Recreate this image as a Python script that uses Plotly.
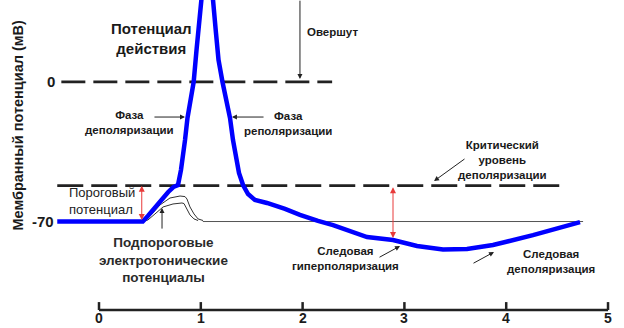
import plotly.graph_objects as go

# --- action potential trace (time in ms, membrane potential in mV) ---
ap_time = [-0.41, 0.43, 0.48, 0.53, 0.58, 0.63, 0.68, 0.73, 0.776, 0.805, 0.820,
           0.845, 0.869, 0.899, 0.930, 0.958, 0.972, 0.997, 1.017, 1.041, 1.056,
           1.071, 1.095, 1.120, 1.149, 1.174, 1.213, 1.248, 1.287, 1.316, 1.346,
           1.375, 1.415, 1.464, 1.532, 1.650, 1.827, 1.974, 2.151, 2.299, 2.633,
           2.888, 3.124, 3.379, 3.615, 3.870, 4.263, 4.725]
ap_mv = [-70.0, -70.0, -67.2, -64.2, -60.7, -57.7, -55.2, -52.7, -51.7, -44.2, -39.1,
         -29.1, -18.1, -9.1, 0.0, 16.1, 24.6, 41.1, 47.1, 51.2, 52.7,
         51.2, 47.1, 41.1, 24.6, 11.0, 0.0, -9.1, -18.1, -29.1, -39.1,
         -45.6, -51.7, -56.2, -59.2, -60.7, -63.7, -66.7, -69.7, -71.8, -77.8,
         -79.3, -82.3, -84.0, -83.8, -81.8, -76.8, -70.3]

# --- subthreshold electrotonic potentials ---
sub_outer_t = [0.43, 0.462, 0.521, 0.599, 0.697, 0.796, 0.845, 0.864, 0.894, 0.933, 0.973, 1.022]
sub_outer_mv = [-70.0, -69.0, -66.2, -61.7, -58.2, -57.2, -57.5, -58.7, -62.7, -66.2, -68.7, -69.5]
sub_inner_t = [0.43, 0.481, 0.550, 0.629, 0.727, 0.815, 0.835, 0.855, 0.894, 0.933, 0.973]
sub_inner_mv = [-70.0, -69.2, -66.2, -62.7, -61.2, -60.7, -61.0, -62.7, -66.7, -68.7, -69.5]

# --- reference levels (mV) ---
zero_level = 0
threshold_level = -52
rest_level = -70
zero_span = [-0.37, 2.29]
threshold_span = [-0.41, 4.56]
rest_span = [1.02, 4.755]

# --- time axis ---
time_ticks = [0, 1, 2, 3, 4, 5]
tick_labels = ["0", "1", "2", "3", "4", "5"]
axis_level = -114.4
tick_len = 4.0

BOLD = "Liberation Sans"
INK = "#1a1a1a"

fig = go.Figure()

# dashed reference levels
fig.add_trace(go.Scatter(x=zero_span, y=[zero_level] * 2, mode="lines",
                         line=dict(color="#222", width=2.8, dash="24px,8px")))
fig.add_trace(go.Scatter(x=threshold_span, y=[threshold_level] * 2, mode="lines",
                         line=dict(color="#222", width=2.8, dash="26px,8px")))
# thin resting-potential baseline
fig.add_trace(go.Scatter(x=rest_span, y=[rest_level] * 2, mode="lines",
                         line=dict(color="#555", width=1)))

# subthreshold potentials
fig.add_trace(go.Scatter(x=sub_outer_t, y=sub_outer_mv, mode="lines",
                         line=dict(color="#333", width=1)))
fig.add_trace(go.Scatter(x=sub_inner_t, y=sub_inner_mv, mode="lines",
                         line=dict(color="#333", width=1)))

# action potential
fig.add_trace(go.Scatter(x=ap_time, y=ap_mv, mode="lines",
                         line=dict(color="#0000ff", width=4.5)))

# time axis line with upward ticks
fig.add_trace(go.Scatter(x=[time_ticks[0], time_ticks[-1]], y=[axis_level] * 2,
                         mode="lines", line=dict(color="#222", width=2.5)))
tx, ty = [], []
for t in time_ticks:
    tx += [t, t, None]
    ty += [axis_level, axis_level + tick_len, None]
fig.add_trace(go.Scatter(x=tx, y=ty, mode="lines", line=dict(color="#222", width=2.5)))

ann = []


def label(x, y, text, size=11.5, bold=True, xanchor="center", color=INK, **kw):
    t = f"<b>{text}</b>" if bold else text
    ann.append(dict(x=x, y=y, xref="x", yref="y", text=t, showarrow=False,
                    xanchor=xanchor, yanchor=kw.pop("yanchor", "middle"),
                    align=kw.pop("align", "center"),
                    font=dict(family=BOLD, size=size, color=color), **kw))


def arrow(x0, y0, x1, y1, color="#222", width=1, heads="end", size=1.0):
    ann.append(dict(x=x1, y=y1, ax=x0, ay=y0, xref="x", yref="y", axref="x", ayref="y",
                    text="", showarrow=True, arrowhead=2, arrowsize=size,
                    arrowwidth=width, arrowcolor=color, arrowside=heads,
                    startarrowhead=2, startarrowsize=size))


for t, lab in zip(time_ticks, tick_labels):
    label(t, -123.3, lab, size=14, yanchor="bottom")

label(-0.472, zero_level, "0", size=15)
label(-0.550, rest_level, "-70", size=15)
label(-0.796, -75.3, "Мембранный потенциал (мВ)", size=14.5, textangle=-90, yanchor="bottom")

label(0.511, 21.6, "Потенциал<br>действия", size=15)
label(2.024, 25.1, "Овершут", size=11.5, xanchor="left")
arrow(1.974, 41.5, 1.974, 1.5)

label(0.295, -20.1, "Фаза<br>деполяризации")
arrow(0.530, -17.6, 0.845, -17.6)
label(1.857, -20.6, "Фаза<br>реполяризации")
arrow(1.631, -17.6, 1.306, -17.6)

label(3.959, -39.1, "Критический<br>уровень<br>деполяризации")
arrow(3.605, -38.1, 3.291, -49.7)

label(-0.314, -59.7, "Пороговый<br>потенциал", size=13, bold=False, xanchor="left",
      align="left", color="#222")
arrow(0.42, -70, 0.42, threshold_level, color="#e83a3a", heads="end+start", size=1.2)

label(0.629, -89.3, "Подпороговые<br>электротонические<br>потенциалы", size=13.5, color="#2a2a2a")
arrow(0.619, -74.3, 0.619, -63.2)

arrow(2.888, threshold_level, 2.888, -78.3, color="#e83a3a", heads="end+start", size=1.2)
label(2.426, -88.6, "Следовая<br>гиперполяризация")
arrow(2.741, -88.3, 2.957, -82.3)
label(4.440, -90.1, "Следовая<br>деполяризация")
arrow(3.664, -91.3, 3.880, -85.3)

fig.update_layout(
    width=624, height=328, margin=dict(l=0, r=0, t=0, b=0),
    paper_bgcolor="white", plot_bgcolor="white", showlegend=False,
    hovermode=False, annotations=ann,
    xaxis=dict(range=[-0.9725, 5.157], visible=False, fixedrange=True),
    yaxis=dict(range=[-123.4, 41.1], visible=False, fixedrange=True),
)

fig.write_html("out.html")
